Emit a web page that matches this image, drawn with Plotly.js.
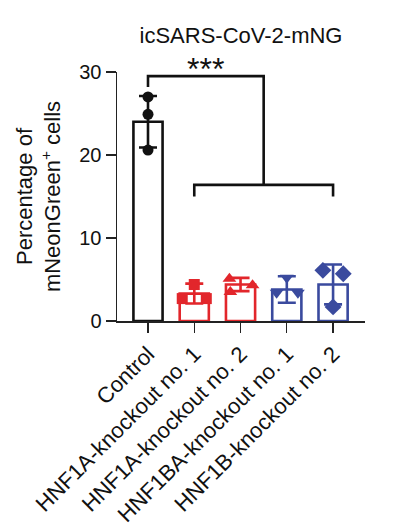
<!DOCTYPE html>
<html>
<head>
<meta charset="utf-8">
<script src="https://cdn.plot.ly/plotly-3.0.1.min.js"></script>
<style>html,body{margin:0;padding:0;background:#fff;}#chart{width:397px;height:528px;}</style>
</head>
<body>
<div id="chart"></div>
<script>
// ---- data ----
const categories = ["Control", "HNF1A-knockout no. 1", "HNF1A-knockout no. 2", "HNF1BA-knockout no. 1", "HNF1B-knockout no. 2"];
const means = [24.0, 3.3, 4.4, 3.8, 4.4];
const errs = [3.1, 1.2, 0.8, 1.6, 2.4];
const pointsControl = [27.0, 24.9, 20.6];
const pointsHNF1A1 = [4.4, 2.7, 2.7];
const pointsHNF1A2 = [5.1, 4.3, 3.5];
const pointsHNF1BA1 = [5.2, 3.4, 3.4];
const pointsHNF1B2 = [6.1, 5.7, 1.7];
const yTicks = [0, 10, 20, 30];
const significance = "***";

// ---- styling ----
const BLACK = "#111111", RED = "#e2262b", BLUE = "#3a4a9e";
const colors = [BLACK, RED, RED, BLUE, BLUE];
const symbols = ["circle", "square", "triangle-up", "triangle-down", "diamond"];
const jitter = [[0, 0, 0], [0, -0.26, 0.26], [-0.24, 0.26, -0.22], [0, -0.22, 0.24], [-0.22, 0.22, 0]];
const pointSets = [pointsControl, pointsHNF1A1, pointsHNF1A2, pointsHNF1BA1, pointsHNF1B2];
const FONT = "Arial, 'Liberation Sans', Helvetica, sans-serif";
const idx = categories.map((_, i) => i);
const Y_MAX = 30;

const traces = [];
traces.push({
  type: "bar", x: idx, y: means, width: 0.63,
  marker: {color: "rgba(255,255,255,0)", line: {color: colors, width: 2.6}},
  hoverinfo: "skip", showlegend: false
});
idx.forEach(i => {
  traces.push({
    type: "scatter", mode: "markers", x: [i], y: [means[i]],
    marker: {size: 0.1, color: "rgba(0,0,0,0)"},
    error_y: {type: "data", array: [errs[i]], visible: true, color: colors[i], thickness: 2.6, width: 9},
    showlegend: false, hoverinfo: "skip", cliponaxis: false
  });
});
idx.forEach(i => {
  traces.push({
    type: "scatter", mode: "markers",
    x: pointSets[i].map((_, k) => i + jitter[i][k]),
    y: pointSets[i],
    marker: {symbol: symbols[i], size: symbols[i] === "diamond" ? 13 : (symbols[i].startsWith("triangle") ? 12 : 11), color: colors[i], line: {width: 0}},
    showlegend: false, hoverinfo: "skip", cliponaxis: false
  });
});

// significance brackets (in data coords)
const topY = 29.5, topLeg = 28.2, lowY = 16.4, lowLeg = 15.0, starY = 30.35;
const mid = (1 + 4) / 2;
const lineStyle = {color: BLACK, width: 2.6};
const shapes = [
  {type: "path", xref: "x", yref: "y", path: `M0,${topLeg} L0,${topY} L${mid},${topY} L${mid},${lowY}`, line: lineStyle},
  {type: "path", xref: "x", yref: "y", path: `M1,${lowLeg} L1,${lowY} L4,${lowY} L4,${lowLeg}`, line: lineStyle}
];

const layout = {
  width: 397, height: 528,
  margin: {l: 117, r: 32, t: 72, b: 207},
  paper_bgcolor: "#fff", plot_bgcolor: "#fff",
  font: {family: FONT, color: "#111", size: 21},
  title: {text: "icSARS-CoV-2-mNG", font: {family: FONT, size: 22, color: "#111"},
          x: 0.5, xref: "paper", y: 1 - 35 / 528, yref: "container", yanchor: "middle"},
  xaxis: {range: [-0.67, 4.69], tickvals: idx, ticktext: categories, tickangle: -45,
          showline: true, linecolor: "#222", linewidth: 1.5, ticks: "outside", ticklen: 10, tickwidth: 1.3, tickcolor: "#222",
          showgrid: false, zeroline: false, fixedrange: true, tickfont: {size: 22}},
  yaxis: {range: [0, Y_MAX], tickvals: yTicks, showline: true, linecolor: "#222", linewidth: 1.5,
          ticks: "outside", ticklen: 10, tickwidth: 1.3, tickcolor: "#222",
          showgrid: false, zeroline: false, tickfont: {size: 20},
          title: {text: "Percentage of<br>mNeonGreen<sup>+</sup> cells", font: {size: 22}, standoff: 12}},
  shapes: shapes,
  annotations: [{x: mid / 2, xref: "x", y: starY / Y_MAX, yref: "paper", text: significance, showarrow: false,
                 font: {size: 32, family: FONT, color: "#111"}, yanchor: "middle"}],
  showlegend: false
};

Plotly.newPlot("chart", traces, layout, {displayModeBar: false, staticPlot: true});
</script>
</body>
</html>
